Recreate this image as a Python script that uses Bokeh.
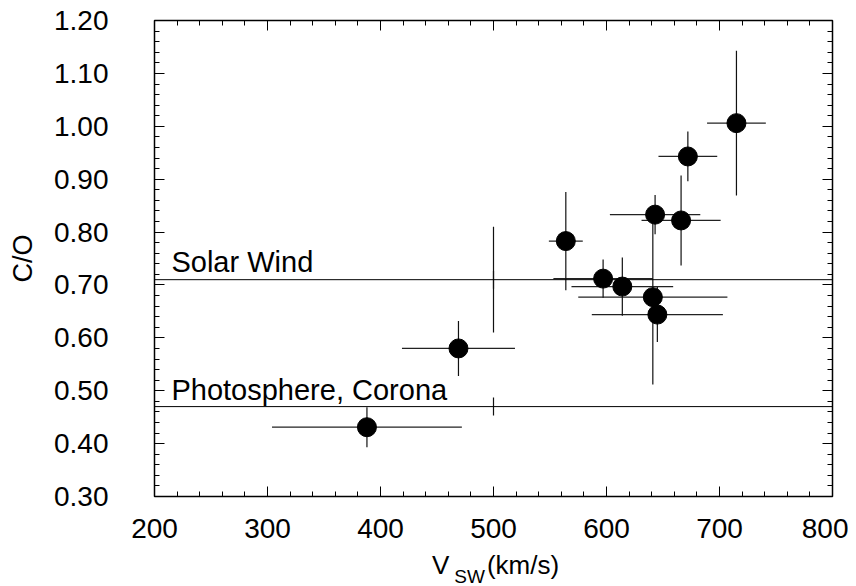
from bokeh.plotting import figure
from bokeh.layouts import column
from bokeh.models import (LinearAxis, SingleIntervalTicker, PrintfTickFormatter,
                          CustomJSTickFormatter, Span, Label, ColumnDataSource, Div)
from bokeh.embed import file_html
from bokeh.resources import INLINE

# ---- data ----
v_sw = [388, 469, 564, 597, 614, 641, 643, 645, 666, 672, 715]
c_o = [0.431, 0.580, 0.783, 0.712, 0.697, 0.677, 0.833, 0.644, 0.822, 0.943, 1.006]
v_err = [84, 50, 15, 44, 45, 66, 40, 58, 35, 26, 26]
c_o_err = [0.038, 0.052, 0.093, 0.036, 0.055, 0.165, 0.037, 0.052, 0.085, 0.047, 0.137]

ref_v = [500, 500, 500]
ref_c_o = [0.71, 0.71, 0.47]
ref_err = [0.10, 0.017, 0.017]

solar_wind = 0.71
photosphere = 0.47
solar_wind_text = "Solar Wind"
photosphere_text = "Photosphere, Corona"

FONT = "Liberation Sans"

p = figure(width=848, height=552, x_range=(200, 800), y_range=(0.30, 1.2001),
           output_backend="svg", toolbar_location=None,
           min_border_left=154, min_border_right=16, min_border_top=20,
           min_border_bottom=56)
p.grid.visible = False
p.outline_line_color = "black"
p.outline_line_width = 1.5
p.background_fill_color = "white"
p.border_fill_color = "white"

xt = SingleIntervalTicker(interval=100, num_minor_ticks=5)
yt = SingleIntervalTicker(interval=0.1, num_minor_ticks=5)


def style_axis(ax, show_labels):
    ax.major_tick_in = 10
    ax.major_tick_out = 0
    ax.minor_tick_in = 5
    ax.minor_tick_out = 0
    ax.major_tick_line_color = "black"
    ax.minor_tick_line_color = "black"
    ax.axis_line_color = "black"
    ax.major_label_text_font = FONT
    ax.major_label_text_color = "black"
    ax.major_label_text_font_size = "28px"
    if not show_labels:
        ax.formatter = CustomJSTickFormatter(code="return '';")
        ax.major_label_standoff = 0


p.xaxis.ticker = xt
p.yaxis.ticker = yt
p.yaxis.formatter = PrintfTickFormatter(format="%.2f")
style_axis(p.xaxis[0], True)
style_axis(p.yaxis[0], True)
p.xaxis.major_label_standoff = 22
p.yaxis.major_label_standoff = 46
p.yaxis.axis_label = "C/O"
p.yaxis.axis_label_text_font = FONT
p.yaxis.axis_label_text_font_size = "27px"
p.yaxis.axis_label_text_font_style = "normal"
p.yaxis.axis_label_text_color = "black"
p.yaxis.axis_label_standoff = 13

top_ax = LinearAxis(ticker=SingleIntervalTicker(interval=100, num_minor_ticks=5))
style_axis(top_ax, False)
p.add_layout(top_ax, "above")
right_ax = LinearAxis(ticker=SingleIntervalTicker(interval=0.1, num_minor_ticks=5))
style_axis(right_ax, False)
p.add_layout(right_ax, "right")

# reference lines
p.add_layout(Span(location=solar_wind, dimension="width", line_color="black", line_width=1))
p.add_layout(Span(location=photosphere, dimension="width", line_color="black", line_width=1))

p.add_layout(Label(x=215, y=0.743, text=solar_wind_text,
                   text_font=FONT, text_font_size="29px", text_color="black",
                   text_baseline="alphabetic"))
p.add_layout(Label(x=215, y=0.501, text=photosphere_text,
                   text_font=FONT, text_font_size="29px", text_color="black",
                   text_baseline="alphabetic"))

# error bars
src = ColumnDataSource(dict(
    x=v_sw, y=c_o,
    xl=[a - b for a, b in zip(v_sw, v_err)],
    xr=[a + b for a, b in zip(v_sw, v_err)],
    yl=[a - b for a, b in zip(c_o, c_o_err)],
    yh=[a + b for a, b in zip(c_o, c_o_err)],
))
p.segment(x0="xl", y0="y", x1="xr", y1="y", source=src, line_color="#222222", line_width=1.2)
p.segment(x0="x", y0="yl", x1="x", y1="yh", source=src, line_color="#111111", line_width=1.2)

ref_src = ColumnDataSource(dict(
    x=ref_v,
    yl=[a - b for a, b in zip(ref_c_o, ref_err)],
    yh=[a + b for a, b in zip(ref_c_o, ref_err)],
))
p.segment(x0="x", y0="yl", x1="x", y1="yh", source=ref_src, line_color="#111111", line_width=1.2)

p.scatter(x="x", y="y", source=src, size=19, fill_color="black", line_color="black")

# x axis title with subscript (HTML text)
xlabel = Div(
    text='V<span style="font-size:19px;position:relative;top:9px;margin-left:5px;margin-right:2px;">SW</span>(km/s)',
    width=200, height=32, margin=(0, 0, 0, 432),
    styles={"font-family": FONT, "font-size": "26px", "color": "black",
            "line-height": "26px", "white-space": "nowrap"})

layout = column(p, xlabel, spacing=0)
open("out.html", "w").write(file_html(layout, INLINE))
